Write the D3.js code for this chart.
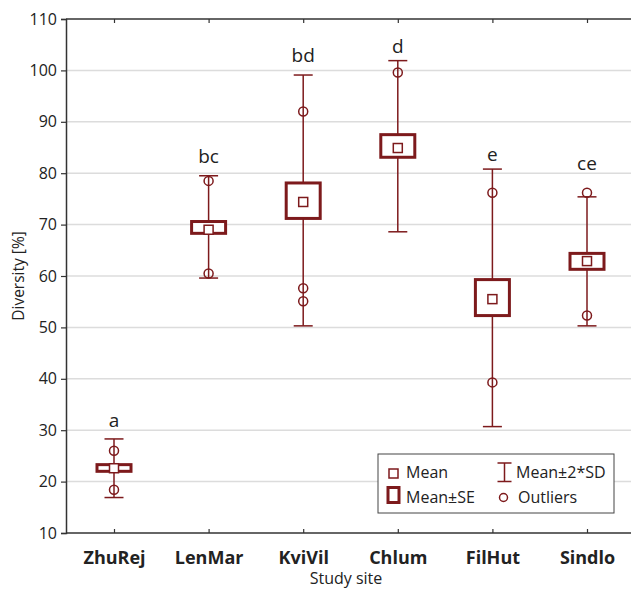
<!DOCTYPE html>
<html>
<head>
<meta charset="utf-8">
<script src="https://cdn.jsdelivr.net/npm/d3@7"></script>
<style>
  html, body { margin: 0; padding: 0; background: #fff; }
  svg { display: block; font-family: "Open Sans", "Noto Sans", sans-serif; }
</style>
</head>
<body>
<svg id="chart" width="631" height="589"></svg>
<script>
// Diversity per study site: mean, mean±SE box, mean±2*SD whiskers, outliers
const sites = ["ZhuRej", "LenMar", "KviVil", "Chlum", "FilHut", "Sindlo"];
const means = [22.6, 69.0, 74.4, 84.9, 55.5, 62.9];
const seLow = [22.0, 68.3, 71.2, 83.1, 52.3, 61.3];
const seHigh = [23.3, 70.6, 78.1, 87.5, 59.3, 64.4];
const sdLow = [16.9, 59.6, 50.3, 68.6, 30.7, 50.3];
const sdHigh = [28.3, 79.5, 99.1, 101.9, 80.8, 75.4];
const outliers = [[26.0, 18.4], [78.5, 60.5], [92.0, 57.6, 55.1], [99.6], [76.2, 39.3], [76.2, 52.3]];
const groupLetters = ["a", "bc", "bd", "d", "e", "ce"];
const letterAt = [30.7, 81.9, 101.7, 103.3, 82.4, 80.6];
const yTicks = [10, 20, 30, 40, 50, 60, 70, 80, 90, 100, 110];

const plotL = 66, plotR = 631, plotT = 19, plotB = 533;
const red = "#7d1a1c";
const ink = "#222";

const svg = d3.select("#chart");

const x = d3.scalePoint().domain(sites).range([114, 587]);
const y = d3.scaleLinear().domain([10, 110]).range([plotB, plotT]);

// horizontal grid
svg.append("g")
  .selectAll("line")
  .data(yTicks.filter(t => t > 10 && t < 110))
  .join("line")
  .attr("x1", plotL).attr("x2", plotR)
  .attr("y1", d => y(d)).attr("y2", d => y(d))
  .attr("stroke", "#dcdcdc").attr("stroke-width", 1.5);

// y axis (left, outward ticks)
const yAxis = svg.append("g")
  .attr("transform", `translate(${plotL},0)`)
  .call(d3.axisLeft(y).tickValues(yTicks).tickSize(5).tickPadding(4));
yAxis.select(".domain").attr("stroke", "#333").attr("stroke-width", 1.5);
yAxis.selectAll(".tick line").attr("stroke", "#333").attr("stroke-width", 1.2);
yAxis.selectAll(".tick text").attr("fill", ink).style("font-size", "16px")
  .style("font-family", "'Open Sans', sans-serif");

// x axis (bottom, inward ticks)
const xAxis = svg.append("g")
  .attr("transform", `translate(0,${plotB})`)
  .call(d3.axisBottom(x).tickSize(-4).tickSizeOuter(0).tickPadding(18));
xAxis.select(".domain").attr("d", `M${plotL},0H${plotR}`)
  .attr("stroke", "#333").attr("stroke-width", 1.5);
xAxis.selectAll(".tick line").attr("stroke", "#333").attr("stroke-width", 1.2);
xAxis.selectAll(".tick text").attr("fill", ink).style("font-size", "18px")
  .style("font-weight", "bold").style("font-family", "'Open Sans', sans-serif");

// top frame with inward ticks
const xTop = svg.append("g")
  .attr("transform", `translate(0,${plotT})`)
  .call(d3.axisTop(x).tickSize(-4).tickSizeOuter(0).tickFormat(""));
xTop.select(".domain").attr("d", `M${plotL},0H${plotR}`)
  .attr("stroke", "#333").attr("stroke-width", 1.5);
xTop.selectAll(".tick line").attr("stroke", "#333").attr("stroke-width", 1.2);

// axis titles
svg.append("text")
  .attr("transform", `translate(24,${(plotT + plotB) / 2}) rotate(-90)`)
  .attr("text-anchor", "middle")
  .attr("fill", ink).style("font-size", "15.5px")
  .text("Diversity [%]");
svg.append("text")
  .attr("x", 346).attr("y", 584)
  .attr("text-anchor", "middle")
  .attr("fill", ink).style("font-size", "16px")
  .text("Study site");

const rows = sites.map((s, i) => ({
  site: s, mean: means[i], seLo: seLow[i], seHi: seHigh[i],
  sdLo: sdLow[i], sdHi: sdHigh[i], out: outliers[i],
  letter: groupLetters[i], letterY: letterAt[i]
}));

const capW = 19, boxW = 34, meanS = 9;

const g = svg.append("g").selectAll("g").data(rows).join("g")
  .attr("transform", d => `translate(${x(d.site)},0)`);

// whisker stem and caps
g.append("line")
  .attr("x1", 0).attr("x2", 0)
  .attr("y1", d => y(d.sdHi)).attr("y2", d => y(d.sdLo))
  .attr("stroke", red).attr("stroke-width", 1.5);
g.append("line")
  .attr("x1", -capW / 2).attr("x2", capW / 2)
  .attr("y1", d => y(d.sdHi)).attr("y2", d => y(d.sdHi))
  .attr("stroke", red).attr("stroke-width", 1.5);
g.append("line")
  .attr("x1", -capW / 2).attr("x2", capW / 2)
  .attr("y1", d => y(d.sdLo)).attr("y2", d => y(d.sdLo))
  .attr("stroke", red).attr("stroke-width", 1.5);

// mean ± SE box
g.append("rect")
  .attr("x", -boxW / 2).attr("width", boxW)
  .attr("y", d => y(d.seHi)).attr("height", d => y(d.seLo) - y(d.seHi))
  .attr("fill", "#fff").attr("stroke", red).attr("stroke-width", 3);

// mean marker
g.append("rect")
  .attr("x", -meanS / 2).attr("width", meanS)
  .attr("y", d => y(d.mean) - meanS / 2).attr("height", meanS)
  .attr("fill", "#fff").attr("stroke", red).attr("stroke-width", 1.5);

// outliers
g.selectAll("circle").data(d => d.out).join("circle")
  .attr("cx", 0).attr("cy", v => y(v)).attr("r", 4.5)
  .attr("fill", "none").attr("stroke", red).attr("stroke-width", 1.5);

// homogeneous group letters
g.append("text")
  .attr("x", 0).attr("y", d => y(d.letterY))
  .attr("text-anchor", "middle")
  .attr("fill", ink).style("font-size", "19px")
  .text(d => d.letter);

// legend
const lg = svg.append("g");
lg.append("rect")
  .attr("x", 378).attr("y", 454).attr("width", 236).attr("height", 59)
  .attr("fill", "#fff").attr("stroke", "#444").attr("stroke-width", 1);
lg.append("rect")
  .attr("x", 393.5 - meanS / 2).attr("y", 473.5 - meanS / 2)
  .attr("width", meanS).attr("height", meanS)
  .attr("fill", "#fff").attr("stroke", red).attr("stroke-width", 1.5);
lg.append("rect")
  .attr("x", 388).attr("y", 487.5).attr("width", 11).attr("height", 15)
  .attr("fill", "#fff").attr("stroke", red).attr("stroke-width", 3);
lg.append("path")
  .attr("d", "M497.5,463H511.5M504.5,463V481.5M497.5,481.5H511.5")
  .attr("fill", "none").attr("stroke", red).attr("stroke-width", 1.5);
lg.append("circle")
  .attr("cx", 503.5).attr("cy", 497.5).attr("r", 4)
  .attr("fill", "none").attr("stroke", red).attr("stroke-width", 1.5);
const legendText = [
  ["Mean", 406, 478],
  ["Mean±SE", 406, 503],
  ["Mean±2*SD", 516, 478],
  ["Outliers", 518, 503]
];
lg.selectAll("text").data(legendText).join("text")
  .attr("x", d => d[1]).attr("y", d => d[2])
  .attr("fill", ink).style("font-size", "16px")
  .text(d => d[0]);
</script>
</body>
</html>
